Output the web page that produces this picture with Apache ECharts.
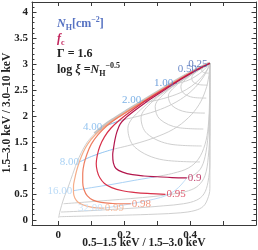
<!DOCTYPE html>
<html><head><meta charset="utf-8">
<script src="https://cdn.jsdelivr.net/npm/echarts@6/dist/echarts.min.js"></script>
<style>html,body{margin:0;padding:0;background:#fff}#c{width:258px;height:250px}</style>
</head><body><div id="c"></div><script>
// ---- axis ticks / labels ----
const xTickValues = [0, 0.1, 0.2, 0.3, 0.4, 0.5];
const xTickLabels = [0, 0.2, 0.4];
const yTickValues = [0, 0.5, 1, 1.5, 2, 2.5, 3, 3.5, 4];

// ---- labels ----
const nhLabels = ['0.25', '0.50', '1.00', '2.00', '4.00', '8.00', '16.00', '32.00'];
const fcLabels = ['0.9', '0.95', '0.98', '0.99'];

// ---- outer boundary (f_c = 1) ----
const boundaryTop = [[0.46,3.02],[0.44,2.965],[0.41,2.87],[0.37,2.73],[0.33,2.575],[0.29,2.42],[0.25,2.265],[0.21,2.11],[0.17,1.95],[0.14,1.82],[0.11,1.66]];
const boundaryLow = [[0.11,1.66],[0.088,1.5],[0.07,1.3],[0.056,1.1],[0.048,0.96],[0.038,0.78],[0.028,0.6],[0.018,0.44],[0.01,0.28],[0.004,0.14],[0.001,0.04]];

// ---- grey constant-f_c loops ----
const fcLoop02 = [[0.46,3.02],[0.447,2.97],[0.439,2.93],[0.435,2.893],[0.437,2.857],[0.446,2.832],[0.457,2.828]];
const fcLoop03 = [[0.46,3.02],[0.432,2.91],[0.413,2.821],[0.405,2.741],[0.409,2.66],[0.429,2.605],[0.453,2.597]];
const fcLoop04 = [[0.46,3.02],[0.4155,2.845],[0.386,2.704],[0.372,2.576],[0.379,2.448],[0.41,2.36],[0.449,2.347]];
const fcLoop05 = [[0.46,3.02],[0.396,2.77],[0.354,2.568],[0.334,2.385],[0.345,2.203],[0.389,2.078],[0.445,2.058]];
const fcLoop06 = [[0.46,3.02],[0.376,2.69],[0.32,2.424],[0.294,2.182],[0.308,1.941],[0.366,1.776],[0.44,1.751]];
const fcLoop07 = [[0.46,3.02],[0.354,2.605],[0.284,2.27],[0.251,1.967],[0.269,1.663],[0.342,1.456],[0.435,1.424]];
const fcLoop08 = [[0.46,3.02],[0.334,2.525],[0.25,2.125],[0.211,1.763],[0.232,1.402],[0.319,1.154],[0.43,1.116]];

// ---- grey constant-N_H lines (from f_c = 0.9 to f_c = 0) ----
const nhGrey050 = [[0.43,2.9],[0.445,2.95],[0.46,3.02]];
const nhGrey100 = [[0.36,2.63],[0.39,2.68],[0.415,2.76],[0.44,2.88],[0.46,3.02]];
const nhGrey200 = [[0.27,2.27],[0.32,2.34],[0.37,2.45],[0.405,2.58],[0.435,2.75],[0.452,2.9],[0.46,3.02]];
const nhGrey400 = [[0.19,1.92],[0.25,2.01],[0.31,2.13],[0.36,2.28],[0.4,2.46],[0.43,2.66],[0.45,2.86],[0.46,3.02]];
const nhGrey800 = [[0.166,1.36],[0.23,1.46],[0.29,1.58],[0.35,1.75],[0.395,1.97],[0.427,2.22],[0.447,2.5],[0.457,2.78],[0.46,3.02]];
const nhGrey1600 = [[0.3,0.835],[0.35,0.9],[0.395,1.0],[0.425,1.17],[0.445,1.45],[0.455,1.8],[0.459,2.3],[0.46,3.02]];
const nhGrey3200 = [[0.39,0.81],[0.415,0.88],[0.435,1.02],[0.448,1.3],[0.456,1.75],[0.46,2.4],[0.46,3.02]];
const nhGrey6400 = [[0.016,0.31],[0.08,0.34],[0.15,0.375],[0.22,0.41],[0.29,0.45],[0.35,0.5],[0.395,0.56],[0.425,0.66],[0.445,0.85],[0.455,1.2],[0.46,1.8],[0.46,3.02]];
const nhGrey12800 = [[0.008,0.15],[0.08,0.17],[0.16,0.2],[0.24,0.23],[0.32,0.27],[0.38,0.31],[0.42,0.38],[0.442,0.5],[0.454,0.72],[0.46,1.1],[0.46,3.02]];
const nhGrey25600 = [[0.003,0.06],[0.1,0.075],[0.2,0.09],[0.3,0.11],[0.37,0.135],[0.415,0.18],[0.44,0.26],[0.453,0.4],[0.46,0.6],[0.46,3.02]];

// ---- highlighted N_H segments (f_c 0.99 -> 0.9) ----
const nhBlue025 = [[0.456,3.0],[0.46,3.01]];
const nhBlue050 = [[0.424,2.9],[0.43,2.9]];
const nhBlue100 = [[0.352,2.64],[0.36,2.63]];
const nhBlue200 = [[0.255,2.3],[0.262,2.28],[0.27,2.27]];
const nhBlue400 = [[0.136,1.79],[0.16,1.85],[0.19,1.92]];
const nhBlue800 = [[0.066,1.12],[0.1,1.22],[0.135,1.3],[0.166,1.36]];
const nhBlue1600 = [[0.045,0.56],[0.1,0.62],[0.16,0.68],[0.23,0.76],[0.3,0.835]];
const nhBlue3200 = [[0.138,0.225],[0.18,0.265],[0.225,0.315],[0.27,0.37],[0.31,0.43],[0.335,0.49],[0.355,0.57],[0.372,0.67],[0.39,0.81]];

// ---- covering-fraction curves ----
const fc090 = [[0.46,3.02],[0.44,2.955],[0.41,2.852],[0.37,2.7],[0.33,2.535],[0.295,2.39],[0.26,2.24],[0.23,2.1],[0.205,1.97],[0.188,1.85],[0.178,1.7],[0.172,1.55],[0.168,1.4],[0.165,1.25],[0.167,1.1],[0.175,0.99],[0.195,0.92],[0.225,0.87],[0.26,0.845],[0.3,0.83],[0.345,0.815],[0.39,0.81]];
const fc095 = [[0.46,3.02],[0.44,2.958],[0.41,2.858],[0.37,2.712],[0.33,2.555],[0.29,2.395],[0.25,2.23],[0.215,2.07],[0.185,1.92],[0.16,1.77],[0.14,1.6],[0.126,1.42],[0.118,1.24],[0.115,1.08],[0.118,0.94],[0.126,0.81],[0.14,0.7],[0.162,0.62],[0.195,0.56],[0.235,0.525],[0.28,0.505],[0.325,0.49]];
const fc098 = [[0.46,3.02],[0.44,2.96],[0.41,2.862],[0.37,2.72],[0.33,2.565],[0.29,2.41],[0.25,2.25],[0.21,2.09],[0.17,1.925],[0.145,1.8],[0.12,1.64],[0.1,1.46],[0.087,1.27],[0.078,1.08],[0.074,0.9],[0.074,0.72],[0.078,0.58],[0.088,0.46],[0.105,0.38],[0.13,0.335],[0.165,0.315],[0.195,0.31],[0.22,0.31]];
const fc099 = [[0.46,3.02],[0.44,2.962],[0.41,2.866],[0.37,2.725],[0.33,2.57],[0.29,2.415],[0.25,2.258],[0.21,2.1],[0.17,1.94],[0.14,1.8],[0.112,1.64],[0.09,1.47],[0.075,1.3],[0.064,1.12],[0.056,0.96],[0.05,0.8],[0.046,0.65],[0.046,0.52],[0.05,0.42],[0.06,0.34],[0.078,0.28],[0.1,0.245],[0.12,0.23],[0.138,0.225]];

// ---- styling ----
const SERIF = '"Liberation Serif","DejaVu Serif",serif';
const GREY = '#c9c9c9';
const nhColors = ['#4161ad','#4a6fbd','#4d8ad3','#5b9ee0','#78b4ec','#92c5f1','#aad2f5','#c0ddf8'];
const fcColors = ['#b3164c','#d8314a','#ee7d60','#f5ae8a'];

const yMinor = [];
for (let i = 1; i <= 41; i++) { if (i % 5 !== 0) yMinor.push(i / 10); }

function line(data, color, width, z) {
  return {type:'line', data, symbol:'none', showSymbol:false, smooth:0.35, silent:true,
    lineStyle:{color, width}, z, xAxisIndex:0, yAxisIndex:0};
}
const greyLines = [fcLoop02, fcLoop03, fcLoop04, fcLoop05, fcLoop06, fcLoop07, fcLoop08,
  nhGrey050, nhGrey100, nhGrey200, nhGrey400, nhGrey800, nhGrey1600, nhGrey3200,
  nhGrey6400, nhGrey12800, nhGrey25600, boundaryLow];
const blueLines = [nhBlue025, nhBlue050, nhBlue100, nhBlue200, nhBlue400, nhBlue800, nhBlue1600, nhBlue3200];
const fcLines = [fc090, fc095, fc098, fc099];

const series = [];
greyLines.forEach(d => series.push(line(d, GREY, 0.9, 2)));
series.push(line(boundaryTop, '#c4c4c4', 3, 3));
blueLines.forEach((d, i) => series.push(line(d, nhColors[i], 1, 4)));
for (let i = fcLines.length - 1; i >= 0; i--) series.push(line(fcLines[i], fcColors[i], 1.2, 5 + (3 - i)));

series.push({type:'scatter', symbolSize:0, silent:true, z:10, xAxisIndex:0, yAxisIndex:0,
  data: blueLines.map((d, i) => ({value:d[0], label:{color:nhColors[i]}})),
  label:{show:true, position:'left', distance:1, fontFamily:SERIF, fontSize:11,
    formatter: p => nhLabels[p.dataIndex]}});
series.push({type:'scatter', symbolSize:0, silent:true, z:10, xAxisIndex:0, yAxisIndex:0,
  data: fcLines.map((d, i) => ({value:d[d.length - 1], label:{color:fcColors[i]}})),
  label:{show:true, position:'right', distance:1, fontFamily:SERIF, fontSize:11,
    formatter: p => fcLabels[p.dataIndex]}});

const AX = '#3a3a3a';
const labelStyle = {fontFamily:SERIF, fontSize:11, fontWeight:'bold', color:'#222'};
function xAx(pos, labels) {
  return {type:'value', min:-0.08, max:0.6, position:pos,
    axisLine:{show:true, onZero:false, lineStyle:{color:AX, width:1}},
    axisTick:{show:true, inside:true, length:4, customValues:xTickValues, lineStyle:{color:AX}},
    axisLabel: labels ? Object.assign({show:true, customValues:xTickLabels, margin:5, formatter: v => String(v)}, labelStyle) : {show:false},
    splitLine:{show:false}};
}
function yAx(pos, labels, minor) {
  return {type:'value', min:-0.1, max:4.2, position:pos,
    axisLine:{show:!minor, onZero:false, lineStyle:{color:AX, width:1}},
    axisTick:{show:true, inside:true, length: minor ? 2.5 : 4.5, customValues: minor ? yMinor : yTickValues, lineStyle:{color:AX}},
    axisLabel: labels ? Object.assign({show:true, customValues:yTickValues, margin:4, formatter: v => String(v)}, labelStyle) : {show:false},
    splitLine:{show:false}};
}

function txt(x, y, text, rich, extra) {
  return Object.assign({type:'text', x, y, silent:true, z:20,
    style:{text, rich, align:'left', verticalAlign:'middle', textAlign:'left', textVerticalAlign:'middle'}}, extra || {});
}
const base = {fontFamily:SERIF, fontSize:12, fontWeight:'bold', lineHeight:16};
const sub = {fontFamily:SERIF, fontSize:8, fontWeight:'bold', lineHeight:8, verticalAlign:'bottom'};
const sup = {fontFamily:SERIF, fontSize:8, fontWeight:'bold', lineHeight:8, verticalAlign:'top'};
const NHC = '#5672c2', FCC = '#c2245c', BK = '#222';

const graphic = [
  txt(57, 24, '{n|N}{s|H}{t|[cm}{p|\u22122}{t|]}', {
    n:Object.assign({}, base, {fontStyle:'italic', fill:NHC, color:NHC}),
    s:Object.assign({}, sub, {fill:NHC, color:NHC}),
    t:Object.assign({}, base, {fill:NHC, color:NHC}),
    p:Object.assign({}, sup, {fill:NHC, color:NHC})}),
  txt(57, 39, '{f|f}{s|c}', {
    f:Object.assign({}, base, {fontStyle:'italic', fill:FCC, color:FCC}),
    s:Object.assign({}, sub, {fill:FCC, color:FCC})}),
  txt(57, 54, '{t|\u0393 = 1.6}', {t:Object.assign({}, base, {fill:BK, color:BK})}),
  txt(57, 70, '{t|log }{x|\u03be}{t| =}{n|N}{s|H}{p|\u22120.5}', {
    t:Object.assign({}, base, {fill:BK, color:BK}),
    x:Object.assign({}, base, {fontStyle:'italic', fill:BK, color:BK}),
    n:Object.assign({}, base, {fontStyle:'italic', fill:BK, color:BK}),
    s:Object.assign({}, sub, {fill:BK, color:BK}),
    p:Object.assign({}, sup, {fill:BK, color:BK})}),
  {type:'text', x:144, y:243, silent:true, style:{text:'0.5\u20131.5 keV / 1.5\u20133.0 keV', align:'center', verticalAlign:'middle', textAlign:'center', textVerticalAlign:'middle', fontFamily:SERIF, fontSize:11.5, fontWeight:'bold', fill:BK}},
  {type:'text', x:7, y:113, rotation:Math.PI/2, silent:true, style:{text:'1.5\u20133.0 keV / 3.0\u201310 keV', align:'center', verticalAlign:'middle', textAlign:'center', textVerticalAlign:'middle', fontFamily:SERIF, fontSize:11.5, fontWeight:'bold', fill:BK}}
];

const chart = echarts.init(document.getElementById('c'), null, {renderer:'canvas'});
chart.setOption({
  animation:false,
  backgroundColor:'#fff',
  grid:{left:32, top:2, width:224, height:223, containLabel:false, outerBoundsMode:'none'},
  xAxis:[xAx('bottom', true), xAx('top', false)],
  yAxis:[yAx('left', true, false), yAx('right', false, false), yAx('left', false, true), yAx('right', false, true)],
  series,
  graphic
});
</script></body></html>
